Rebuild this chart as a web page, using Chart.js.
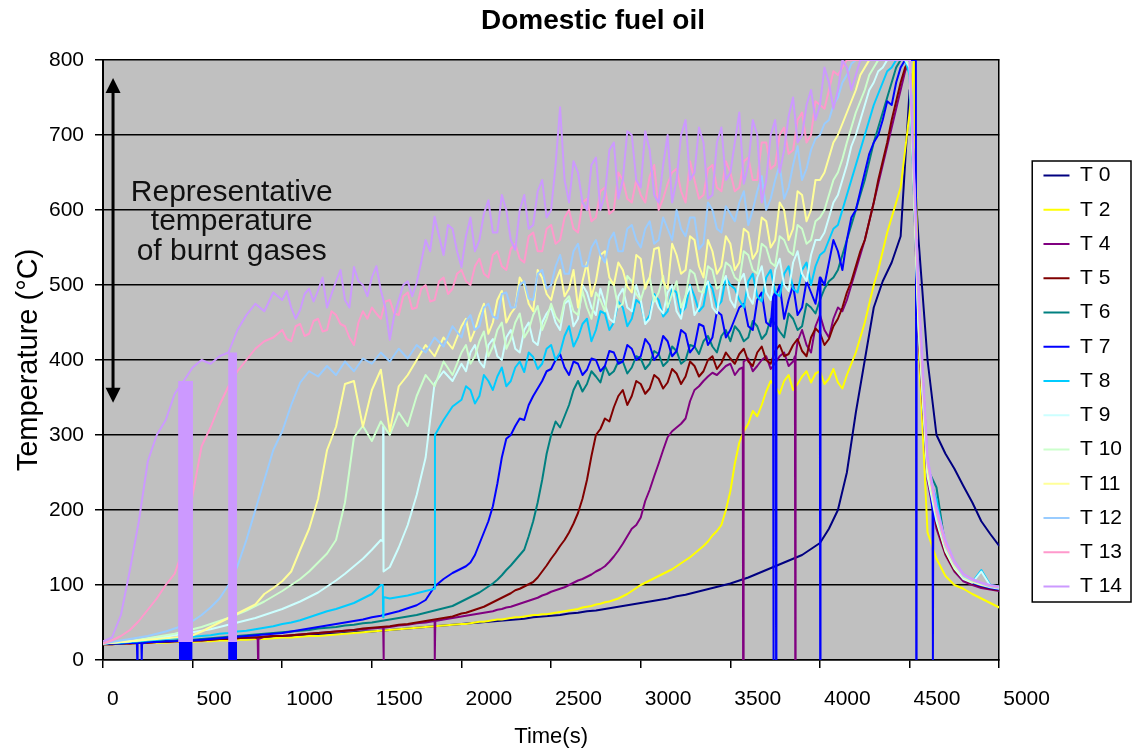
<!DOCTYPE html>
<html><head><meta charset="utf-8">
<script src="https://cdn.jsdelivr.net/npm/chart.js@4.4.1/dist/chart.umd.min.js"></script>
<style>html,body{margin:0;padding:0;background:#fff}#wrap{width:1132px;height:755px;position:relative}</style>
</head><body><div id="wrap"><canvas id="c"></canvas></div>
<script>
// ---- sampling grid (s) ----
const times = [0,50,100,150,200,250,300,350,400,450,500,550,600,650,700,750,800,850,900,950,
1000,1050,1100,1150,1200,1250,1300,1350,1400,1450,1500,1550,1600,1650,1700,1750,1800,1850,1900,1950,
2000,2050,2100,2150,2200,2250,2300,2350,2400,2450,2500,2550,2600,2650,2700,2750,2800,2850,2900,2950,
3000,3050,3100,3150,3200,3250,3300,3350,3400,3450,3500,3550,3600,3650,3700,3750,3800,3850,3900,3950,
4000,4050,4100,4150,4200,4250,4300,4350,4400,4450,4500,4550,4600,4650,4700,4750,4800,4850,4900,4950,5000];
// intermediate read times in the noisy phases
const timesMidA = [1025,1075,1125,1175,1225,1275,1325,1375,1425,1475,1525,1575,1625,1675,1725,1775,1825,1875,1925,1975];
const timesMidB = [2025,2075,2125,2175,2225,2275,2325,2375,2425,2475,2525,2575,2625,2675,2725,2775,2825,2875,2925,2975,
3025,3075,3125,3175,3225,3275,3325,3375,3425,3475,3525,3575,3625,3675,3725,3775,3825,3875,3925,3975,
4025,4075,4125,4175,4225,4275,4325,4375,4425,4475];

const seriesLabels = ['T 0','T 2','T 4','T 5','T 6','T 7','T 8','T 9','T 10','T 11','T 12','T 13','T 14'];
const seriesColors = ['#000080','#FFFF00','#800080','#800000','#008080','#0000FF','#00CCFF','#CCFFFF','#CCFFCC','#FFFF99','#99CCFF','#FF99CC','#CC99FF'];

const valuesT0 = [22,22,22,23,23,24,24,25,25,26, 26,27,27,28,28,29,29,30,30,31, 31,32,33,33,34,35,35,36,37,38, 38,39,40,41,42,43,44,45,46,47,
 48,49,50,51,52,53,54,55,57,58, 59,60,62,63,65,66,68,70,72,74, 76,78,80,82,85,87,90,93,96,99, 102,106,110,115,120,125,130,135,140,148,
 156,175,200,250,330,400,470,505,530,565, 760,560,400,300,275,255,232,210,185,168, 152];
const valuesT2 = [21,21,22,22,22,23,23,23,24,24, 24,25,25,26,26,27,27,28,28,29, 30,30,31,32,32,33,34,35,36,37, 38,39,40,41,42,43,44,45,46,47,
 48,49,51,52,54,55,57,58,60,61, 62,64,66,68,71,74,77,80,85,92, 100,106,112,118,125,133,142,152,166,180, 225,290,315,325,358,365,372,360,378,370,
 385,375,370,380,410,450,500,545,590,630, 730,420,170,135,112,100,95,88,82,76, 70];
const valuesT4 = [21,21,22,22,23,23,24,24,25,25, 26,26,27,28,28,29,30,30,31,32, 32,33,34,35,36,37,38,39,40,41, 42,43,44,46,47,49,50,52,54,56,
 58,60,62,64,67,70,73,77,81,86, 91,95,100,106,111,118,125,138,155,175, 190,227,262,297,310,322,360,372,383,386, 395,388,402,392,405,396,410,398,440,410,
 460,430,470,480,520,560,610,660,710,760, 800,430,240,175,140,118,105,100,96,94, 92];
const valuesT5 = [21,21,22,22,23,23,24,24,25,25, 26,26,27,28,28,29,30,30,31,32, 32,33,34,35,36,37,38,39,40,42, 43,44,45,47,48,50,52,54,56,58,
 62,65,69,74,80,86,93,98,104,118, 135,152,170,196,240,300,322,337,360,352, 368,362,375,370,382,378,392,385,405,396, 402,408,398,410,400,412,405,420,412,430,
 436,428,455,490,525,560,610,665,720,770, 800,440,250,180,142,120,108,102,98,95, 93];
const valuesT6 = [21,22,22,23,23,24,25,25,26,27, 27,28,29,30,31,32,33,34,35,36, 37,38,39,40,42,43,44,46,47,49, 50,52,54,56,58,60,63,66,69,72,
 78,84,90,98,107,120,133,147,185,240, 300,310,340,372,368,378,392,385,398,390, 402,395,408,398,412,400,418,425,418,432, 425,438,430,445,435,448,430,455,445,470,
 480,505,520,560,600,640,690,730,770,800, 790,460,255,230,150,125,110,103,100,97, 96];
const valuesT7 = [22,22,22,23,23,24,24,25,25,26, 26,27,28,29,30,31,32,33,34,35, 36,38,40,42,44,46,48,50,52,54, 57,59,62,65,69,73,80,98,108,116,
 122,130,155,185,235,295,312,320,352,372, 388,408,380,395,387,400,392,410,398,415, 405,420,408,425,412,435,418,445,430,460, 440,470,445,480,450,490,455,500,470,490,
 510,530,545,560,600,650,690,720,740,790, 800,480,260,185,150,125,110,103,99,96, 94];
const valuesT8 = [22,23,23,24,25,26,27,28,29,30, 31,32,33,35,36,38,39,41,43,45, 48,50,53,57,61,65,68,72,76,82, 88,100,82,84,86,89,92,95,320,338,
 347,360,352,372,378,365,390,384,404,395, 420,410,445,430,455,440,462,450,470,455, 475,460,480,465,490,470,485,472,495,478, 500,480,505,485,510,490,515,495,520,500,
 540,560,580,620,660,700,740,770,790,800, 780,450,250,215,150,125,110,104,120,100, 98];
const valuesT9 = [22,23,24,25,26,28,29,31,33,35, 37,39,41,44,47,50,53,56,60,64, 68,73,78,84,90,98,106,115,125,135, 147,160,124,150,180,220,270,369,385,372,
 395,410,398,420,405,430,415,440,425,450, 470,440,480,455,490,460,475,450,495,465, 480,455,470,490,465,485,460,495,470,500, 480,505,485,510,490,520,500,530,515,540,
 560,590,620,660,700,740,770,790,800,800, 790,440,245,185,145,122,108,103,118,99, 97];
const valuesT10 = [22,23,24,25,27,29,31,33,35,38, 41,44,48,52,56,61,66,72,78,85, 92,100,108,118,130,142,160,210,297,312, 292,318,300,330,312,352,380,365,398,380,
 410,395,425,405,440,415,450,430,460,440, 475,450,485,460,470,490,465,500,475,505, 480,510,490,470,505,485,515,490,520,500, 525,505,540,515,550,525,560,540,575,560,
 590,620,650,690,730,760,790,800,800,800, 795,445,250,190,148,124,110,104,100,97, 95];
const valuesT11 = [22,23,24,25,26,27,28,29,30,31, 33,38,44,50,56,62,68,74,88,96, 105,118,147,175,215,280,311,368,372,311, 360,387,305,365,380,400,420,405,430,415,
 445,425,460,435,480,450,470,500,465,510, 480,520,495,470,530,505,545,500,520,490, 535,510,550,495,540,520,560,510,545,525, 555,530,570,545,585,560,600,575,620,600,
 640,670,700,730,760,790,800,800,800,800, 800,455,255,192,150,126,111,105,101,98, 96];
const valuesT12 = [22,24,26,28,30,32,35,38,42,46, 52,60,70,82,100,125,160,200,240,280, 305,340,370,385,378,392,380,398,385,402, 395,410,398,415,402,420,410,430,418,445,
 430,460,445,475,455,490,470,505,480,520, 500,540,515,555,525,560,530,570,545,580, 550,585,560,575,600,565,590,555,600,570, 595,610,580,625,600,640,615,660,640,680,
 700,720,750,780,800,800,800,800,800,800, 800,470,262,195,152,128,112,106,102,98, 96];
const valuesT13 = [22,26,32,40,52,67,82,100,115,150, 220,285,310,340,365,385,400,415,425,430, 440,425,448,435,455,440,460,445,420,465, 470,455,480,460,490,470,500,480,510,495,
 520,500,535,510,545,520,555,530,570,545, 580,560,600,570,615,590,630,600,640,610, 620,645,600,635,655,610,640,620,660,625, 650,630,670,640,690,660,710,680,730,700,
 740,760,780,800,800,800,800,800,800,800, 800,480,265,198,155,130,114,107,103,99, 97];
const valuesT14 = [25,30,60,120,185,265,300,320,355,372, 390,400,395,405,410,440,460,475,465,490, 480,470,467,495,493,470,505,480,524,500, 510,493,427,480,505,503,560,591,540,575,
 524,590,560,613,570,600,547,620,580,640, 600,737,610,650,600,670,620,690,640,700, 630,680,610,700,640,720,650,690,620,710, 650,730,660,700,640,720,680,750,700,760,
 740,770,760,790,780,800,800,800,800,800, 800,500,270,205,160,132,115,108,103,100, 98];

// values at timesMidA (1025..1975)
const midAT13 = [428,445,432,452,438,465,448,430,450,455, 462,478,462,485,468,495,478,505,488,515];
const midAT14 = [492,455,488,478,510,488,520,470,505,485, 525,470,460,500,485,530,545,565,580,545];
// values at timesMidB (2025..4475)
const midBT2 = [48,50,51,53,54,56,57,59,60,61, 63,65,67,70,72,75,78,82,88,96, 103,109,115,121,129,137,147,158,172,200, 262,305,332,340,372,355,380,368,385,382, 368,388,362,395,430,475,520,570,610,680];
const midBT4 = [59,61,63,65,68,71,75,79,83,88, 93,97,103,108,114,121,131,146,165,180, 212,245,280,305,315,345,365,378,380,392, 380,398,385,400,388,405,392,425,420,445, 440,455,465,500,540,585,635,685,735,785];
const midBT5 = [63,67,71,77,83,89,95,101,110,126, 143,160,182,215,272,308,318,352,340,372, 355,380,362,388,368,398,378,400,388,410, 395,415,392,418,395,420,408,428,405,442, 420,445,470,505,545,585,640,690,745,790];
const midBT6 = [81,87,94,102,113,126,140,165,210,275, 318,325,360,358,385,370,380,398,382,405, 388,412,392,418,395,420,408,432,410,440, 445,425,452,428,455,438,462,440,475,462, 495,510,540,580,620,665,710,750,790,800];
const midBT7 = [125,140,170,205,270,300,322,340,362,385, 400,390,398,380,402,385,412,395,420,400, 428,400,432,405,440,410,448,420,465,430, 455,475,440,490,445,500,480,460,505,475, 500,560,520,590,625,675,700,745,770,800];
const midBT8 = [365,342,380,360,390,372,398,410,388,415, 400,432,418,448,425,465,440,478,445,480, 450,488,458,495,462,500,465,505,470,510, 495,470,515,478,520,485,525,490,530,525, 545,575,600,640,680,720,755,785,800,800];
const midBT9 = [385,420,390,428,400,440,410,450,420,462, 450,475,445,500,470,495,455,485,470,500, 448,485,462,500,455,498,470,505,462,512, 470,515,475,525,480,535,492,545,505,560, 570,610,640,685,720,760,785,800,800,800];
const midBT10 = [420,405,438,418,450,428,462,440,472,455, 458,478,465,492,455,480,505,470,512,488, 500,478,512,488,470,520,492,525,495,530, 510,545,520,555,530,565,545,580,555,585, 600,640,668,710,745,780,800,800,800,800];
const midBT11 = [455,440,475,450,492,462,510,475,520,488, 505,485,520,505,485,540,510,530,498,540, 495,548,505,555,515,565,525,560,515,565, 520,575,535,590,550,610,560,625,585,640, 650,690,715,745,780,800,800,800,800,800];
const midBT12 = [452,440,470,458,488,470,500,482,515,495, 525,515,545,525,550,540,560,545,575,560, 575,555,590,560,575,590,548,610,575,605, 585,625,600,645,615,660,630,685,655,695, 715,740,770,795,800,800,800,800,800,800];
const midBT13 = [505,525,515,540,525,548,535,565,545,575, 555,590,575,610,585,625,595,650,615,640, 610,660,615,650,625,665,615,655,630,665, 625,665,640,690,655,700,675,720,690,745, 735,785,790,800,800,800,800,800,800,800];
const midBT14 = [565,545,595,570,620,560,600,575,625,590, 660,640,665,610,660,600,680,615,705,640, 705,620,660,610,700,640,710,615,690,640, 690,635,720,610,700,650,725,690,740,720, 790,735,800,760,800,800,800,800,800,800];

// extra read points [time, value]: short drops / jumps seen as vertical strokes
const extrasT0 = [];
const extrasT2 = [[4525,800]];
const extrasT4 = [[863,28],[865,0],[867,28],[1563,43],[1565,0],[1567,43],[1850,52],[1852,0],[1854,52],[3569,390],[3571,0],[3573,390],[3860,405],[3862,0],[3864,405]];
const extrasT5 = [];
const extrasT6 = [];
const extrasT7 = [[189,22],[191,0],[193,22],[214,22],[216,0],[218,22],[3738,485],[3740,0],[3742,485],[3753,487],[3755,0],[3757,487],[3999,510],[4001,0],[4003,510],[4535,800],[4537,0],[4539,560],[4628,200],[4630,0],[4632,195]];
const extrasT8 = [[1561,100],[1563,57],[1565,84],[1852,300]];
const extrasT9 = [[1561,158],[1563,311],[1565,118]];
const extrasT10 = [], extrasT11 = [], extrasT12 = [], extrasT13 = [], extrasT14 = [];

// dense oscillation bands [tStart, tEnd, low, high]
const bandsT7 = [[424,500,0,24],[698,748,0,24]];
const bandsT14 = [[419,502,24,372],[698,748,24,410]];

// annotation
const noteLines = ['Representative','temperature','of burnt gases'];
const noteTime = 718;
const noteTemps = [623,584,545];
const arrowTime = 56, arrowTop = 776, arrowBottom = 343;

const xTicks = [0,500,1000,1500,2000,2500,3000,3500,4000,4500,5000];
const yTicks = [0,100,200,300,400,500,600,700,800];

const allValues = [valuesT0,valuesT2,valuesT4,valuesT5,valuesT6,valuesT7,valuesT8,valuesT9,valuesT10,valuesT11,valuesT12,valuesT13,valuesT14];
const allMidA = [null,null,null,null,null,null,null,null,null,null,null,midAT13,midAT14];
const allMidB = [null,midBT2,midBT4,midBT5,midBT6,midBT7,midBT8,midBT9,midBT10,midBT11,midBT12,midBT13,midBT14];
const allExtras = [extrasT0,extrasT2,extrasT4,extrasT5,extrasT6,extrasT7,extrasT8,extrasT9,extrasT10,extrasT11,extrasT12,extrasT13,extrasT14];

const FONT = "'Liberation Sans', Arial, Helvetica, sans-serif";
Chart.defaults.font.family = FONT;
Chart.defaults.color = '#000';

function pairs(ts, vs) { return vs ? ts.map((t, i) => ({x: t, y: vs[i]})) : []; }
const datasets = allValues.map((vals, k) => {
  const pts = pairs(times, vals)
    .concat(pairs(timesMidA, allMidA[k]))
    .concat(pairs(timesMidB, allMidB[k]))
    .concat(allExtras[k].map(e => ({x: e[0], y: e[1]})))
    .sort((a, b) => a.x - b.x);
  return {label: seriesLabels[k], data: pts, borderColor: seriesColors[k], backgroundColor: seriesColors[k],
    borderWidth: 2, pointRadius: 0, tension: 0, borderJoinStyle: 'round', fill: false, order: 100 - k};
});
function bandSets(bands, k) {
  return bands.map(b => ({label: '', data: [{x: b[0], y: b[3]}, {x: b[1], y: b[3]}], borderWidth: 0,
    borderColor: seriesColors[k], backgroundColor: seriesColors[k], pointRadius: 0, fill: {value: b[2]}, order: 100 - k}));
}
const nSeries = datasets.length;
datasets.push(...bandSets(bandsT7, 5), ...bandSets(bandsT14, 12));

const plotBg = {id: 'plotBg', beforeDraw(chart) {
  const {ctx, chartArea: a} = chart; ctx.save(); ctx.fillStyle = '#C0C0C0';
  ctx.fillRect(a.left, a.top, a.right - a.left, a.bottom - a.top); ctx.restore(); }};
const titleShift = {id: 'titleShift', afterLayout(chart) {
  const tb = chart.titleBlock; if (tb) { tb.left += 27; tb.right += 27; } }};
const note = {id: 'note', afterDatasetsDraw(chart) {
  const {ctx, scales: {x, y}} = chart; ctx.save();
  ctx.fillStyle = '#111'; ctx.font = '30px ' + FONT; ctx.textAlign = 'center'; ctx.textBaseline = 'middle';
  noteLines.forEach((s, i) => ctx.fillText(s, x.getPixelForValue(noteTime), y.getPixelForValue(noteTemps[i])));
  const ax = x.getPixelForValue(arrowTime), y1 = y.getPixelForValue(arrowTop), y2 = y.getPixelForValue(arrowBottom);
  ctx.strokeStyle = '#000'; ctx.lineWidth = 3; ctx.beginPath(); ctx.moveTo(ax, y1 + 10); ctx.lineTo(ax, y2 - 10); ctx.stroke();
  ctx.fillStyle = '#000';
  ctx.beginPath(); ctx.moveTo(ax, y1); ctx.lineTo(ax - 7.5, y1 + 15); ctx.lineTo(ax + 7.5, y1 + 15); ctx.closePath(); ctx.fill();
  ctx.beginPath(); ctx.moveTo(ax, y2); ctx.lineTo(ax - 7.5, y2 - 15); ctx.lineTo(ax + 7.5, y2 - 15); ctx.closePath(); ctx.fill();
  ctx.restore(); }};
const legendBox = {id: 'legendBox', afterDraw(chart) {
  const lg = chart.legend; const hb = lg.legendHitBoxes; if (!hb || !hb.length) return;
  const top = hb[0].top - 4, last = hb[hb.length - 1], bottom = last.top + last.height + 5;
  const {ctx} = chart; ctx.save(); ctx.strokeStyle = '#000'; ctx.lineWidth = 1.5;
  ctx.strokeRect(lg.left + 2, top, lg.right - lg.left - 3, bottom - top); ctx.restore(); }};

new Chart(document.getElementById('c'), {
  type: 'line',
  data: {datasets},
  options: {
    responsive: true, maintainAspectRatio: false, animation: false, devicePixelRatio: 1,
    layout: {padding: {top: 7, left: 0, right: 0, bottom: 0}},
    plugins: {
      tooltip: {enabled: false},
      title: {display: true, text: 'Domestic fuel oil', color: '#000', font: {size: 28, weight: 'bold', lineHeight: 1}, padding: {top: 0, bottom: 25}},
      legend: {position: 'right', labels: {usePointStyle: true, pointStyle: 'line', pointStyleWidth: 26, padding: 13.25, color: '#000', font: {size: 21},
        filter: item => item.datasetIndex < nSeries, sort: (a, b) => a.datasetIndex - b.datasetIndex}}
    },
    scales: {
      x: {type: 'linear', min: 0, max: 5000,
        afterBuildTicks: s => { s.ticks = xTicks.map(v => ({value: v})); },
        afterFit: s => { s.height = 95; },
        ticks: {align: 'start', labelOffset: 4, padding: 19, maxRotation: 0, autoSkip: false, font: {size: 21}, color: '#000', callback: v => String(v)},
        grid: {drawOnChartArea: false, drawTicks: true, tickLength: 8, color: '#000', lineWidth: 1.5},
        border: {display: true, color: '#000', width: 1.5},
        title: {display: true, text: 'Time(s)', font: {size: 22}, color: '#000', padding: {top: 0, bottom: 5}}},
      y: {min: 0, max: 800,
        afterBuildTicks: s => { s.ticks = yTicks.map(v => ({value: v})); },
        afterFit: s => { s.width = 103; },
        ticks: {padding: 11, font: {size: 21}, color: '#000', callback: v => String(v)},
        grid: {color: '#000', lineWidth: 1.5, tickLength: 8},
        border: {display: true, color: '#000', width: 2},
        title: {display: true, text: 'Temperature (°C)', font: {size: 29}, color: '#000', padding: {top: 12, bottom: 0}}},
      yR: {position: 'right', min: 0, max: 1, display: true,
        afterFit: s => { s.width = 31; },
        ticks: {display: false}, grid: {display: false, drawTicks: false},
        border: {display: true, color: '#000', width: 1.5}}
    }
  },
  plugins: [plotBg, titleShift, note, legendBox]
});
</script></body></html>
